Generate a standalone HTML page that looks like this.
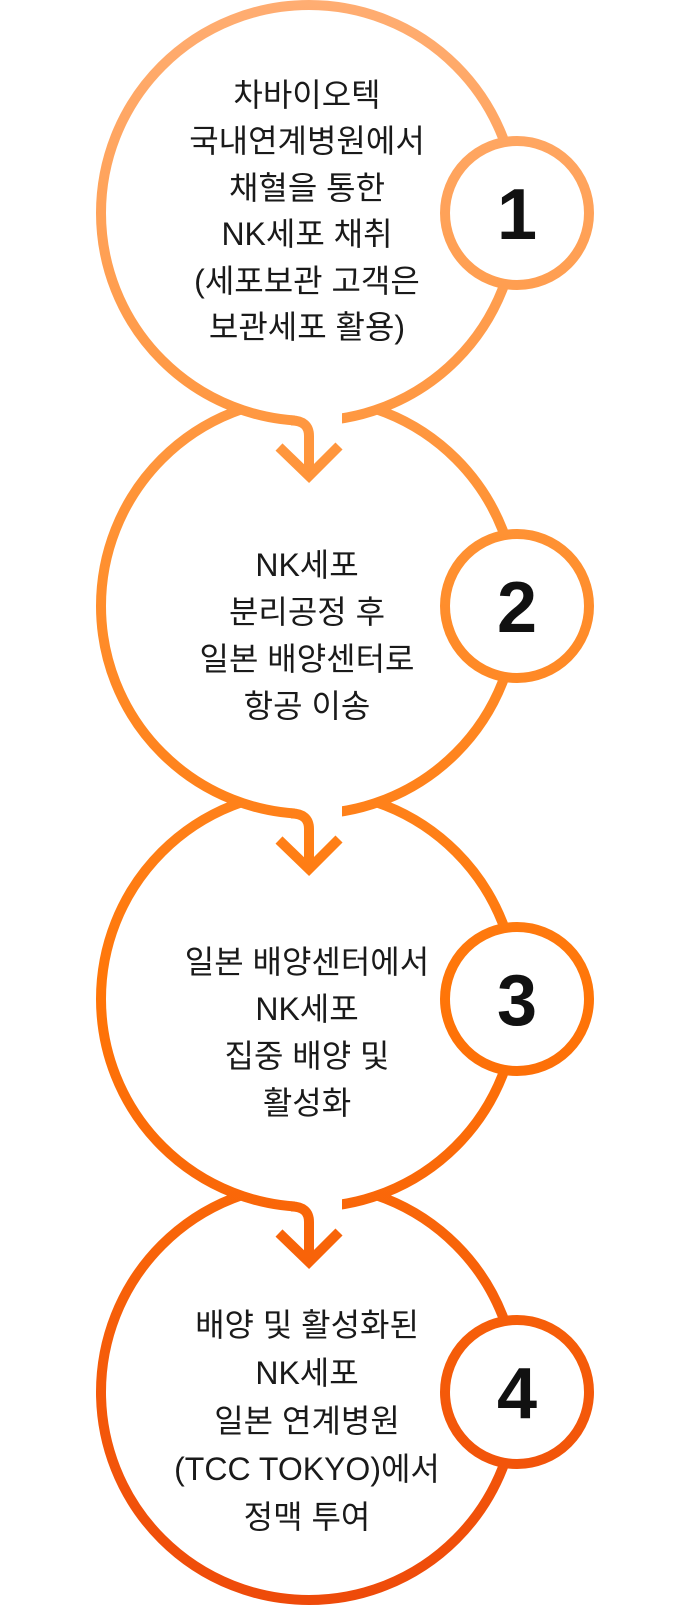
<!DOCTYPE html>
<html><head><meta charset="utf-8">
<style>
html,body{margin:0;padding:0;background:#fff;}
svg{display:block;}
.t{font-family:"Liberation Sans","Noto Sans CJK KR",sans-serif;font-size:32px;fill:#1a1a1a;text-anchor:middle;}
.n{font-family:"Liberation Sans",sans-serif;font-weight:bold;font-size:72px;fill:#111;text-anchor:middle;}
</style></head>
<body>
<svg width="690" height="1609" viewBox="0 0 690 1609" xmlns="http://www.w3.org/2000/svg">
<defs>
<linearGradient id="g" gradientUnits="userSpaceOnUse" x1="0" y1="0" x2="0" y2="1609">
<stop offset="0" stop-color="#FFAD72"/>
<stop offset="0.35" stop-color="#FF9030"/>
<stop offset="0.62" stop-color="#FF7508"/>
<stop offset="1" stop-color="#EE4A0A"/>
</linearGradient>
</defs>
<g fill="#fff" stroke="url(#g)" stroke-width="10">
<circle cx="309" cy="1392" r="208"/>
<circle cx="309" cy="999" r="208"/>
<circle cx="309" cy="606" r="208"/>
<circle cx="309" cy="213" r="208"/>
</g>
<g fill="#fff">
<rect x="295" y="412" width="47" height="16"/>
<rect x="295" y="805" width="47" height="16"/>
<rect x="295" y="1198" width="47" height="16"/>
</g>
<g fill="none" stroke="url(#g)" stroke-width="10" stroke-linejoin="miter">
<path d="M291 420.4 Q309 420.6 309 436 L309 472"/>
<path d="M279 447 L309 476 L339 446"/>
<path d="M291 813.4 Q309 813.6 309 829 L309 865"/>
<path d="M279 840 L309 869 L339 839"/>
<path d="M291 1206.4 Q309 1206.6 309 1222 L309 1258"/>
<path d="M279 1233 L309 1262 L339 1232"/>
</g>
<g fill="#fff" stroke="url(#g)" stroke-width="10">
<circle cx="517" cy="213" r="72"/>
<circle cx="517" cy="606" r="72"/>
<circle cx="517" cy="999" r="72"/>
<circle cx="517" cy="1392" r="72"/>
</g>
<text class="n" x="517" y="239">1</text>
<text class="n" x="517" y="632">2</text>
<text class="n" x="517" y="1025">3</text>
<text class="n" x="517" y="1418">4</text>

<text class="t" x="307" y="106">차바이오텍</text>
<text class="t" x="307" y="152">국내연계병원에서</text>
<text class="t" x="307" y="199">채혈을 통한</text>
<text class="t" x="307" y="245">NK세포 채취</text>
<text class="t" x="307" y="292">(세포보관 고객은</text>
<text class="t" x="307" y="338">보관세포 활용)</text>

<text class="t" x="307" y="576">NK세포</text>
<text class="t" x="307" y="623">분리공정 후</text>
<text class="t" x="307" y="670">일본 배양센터로</text>
<text class="t" x="307" y="717">항공 이송</text>

<text class="t" x="307" y="973">일본 배양센터에서</text>
<text class="t" x="307" y="1020">NK세포</text>
<text class="t" x="307" y="1067">집중 배양 및</text>
<text class="t" x="307" y="1114">활성화</text>

<text class="t" x="307" y="1336">배양 및 활성화된</text>
<text class="t" x="307" y="1384">NK세포</text>
<text class="t" x="307" y="1432">일본 연계병원</text>
<text class="t" x="307" y="1480">(TCC TOKYO)에서</text>
<text class="t" x="307" y="1528">정맥 투여</text>
</svg>
</body></html>
